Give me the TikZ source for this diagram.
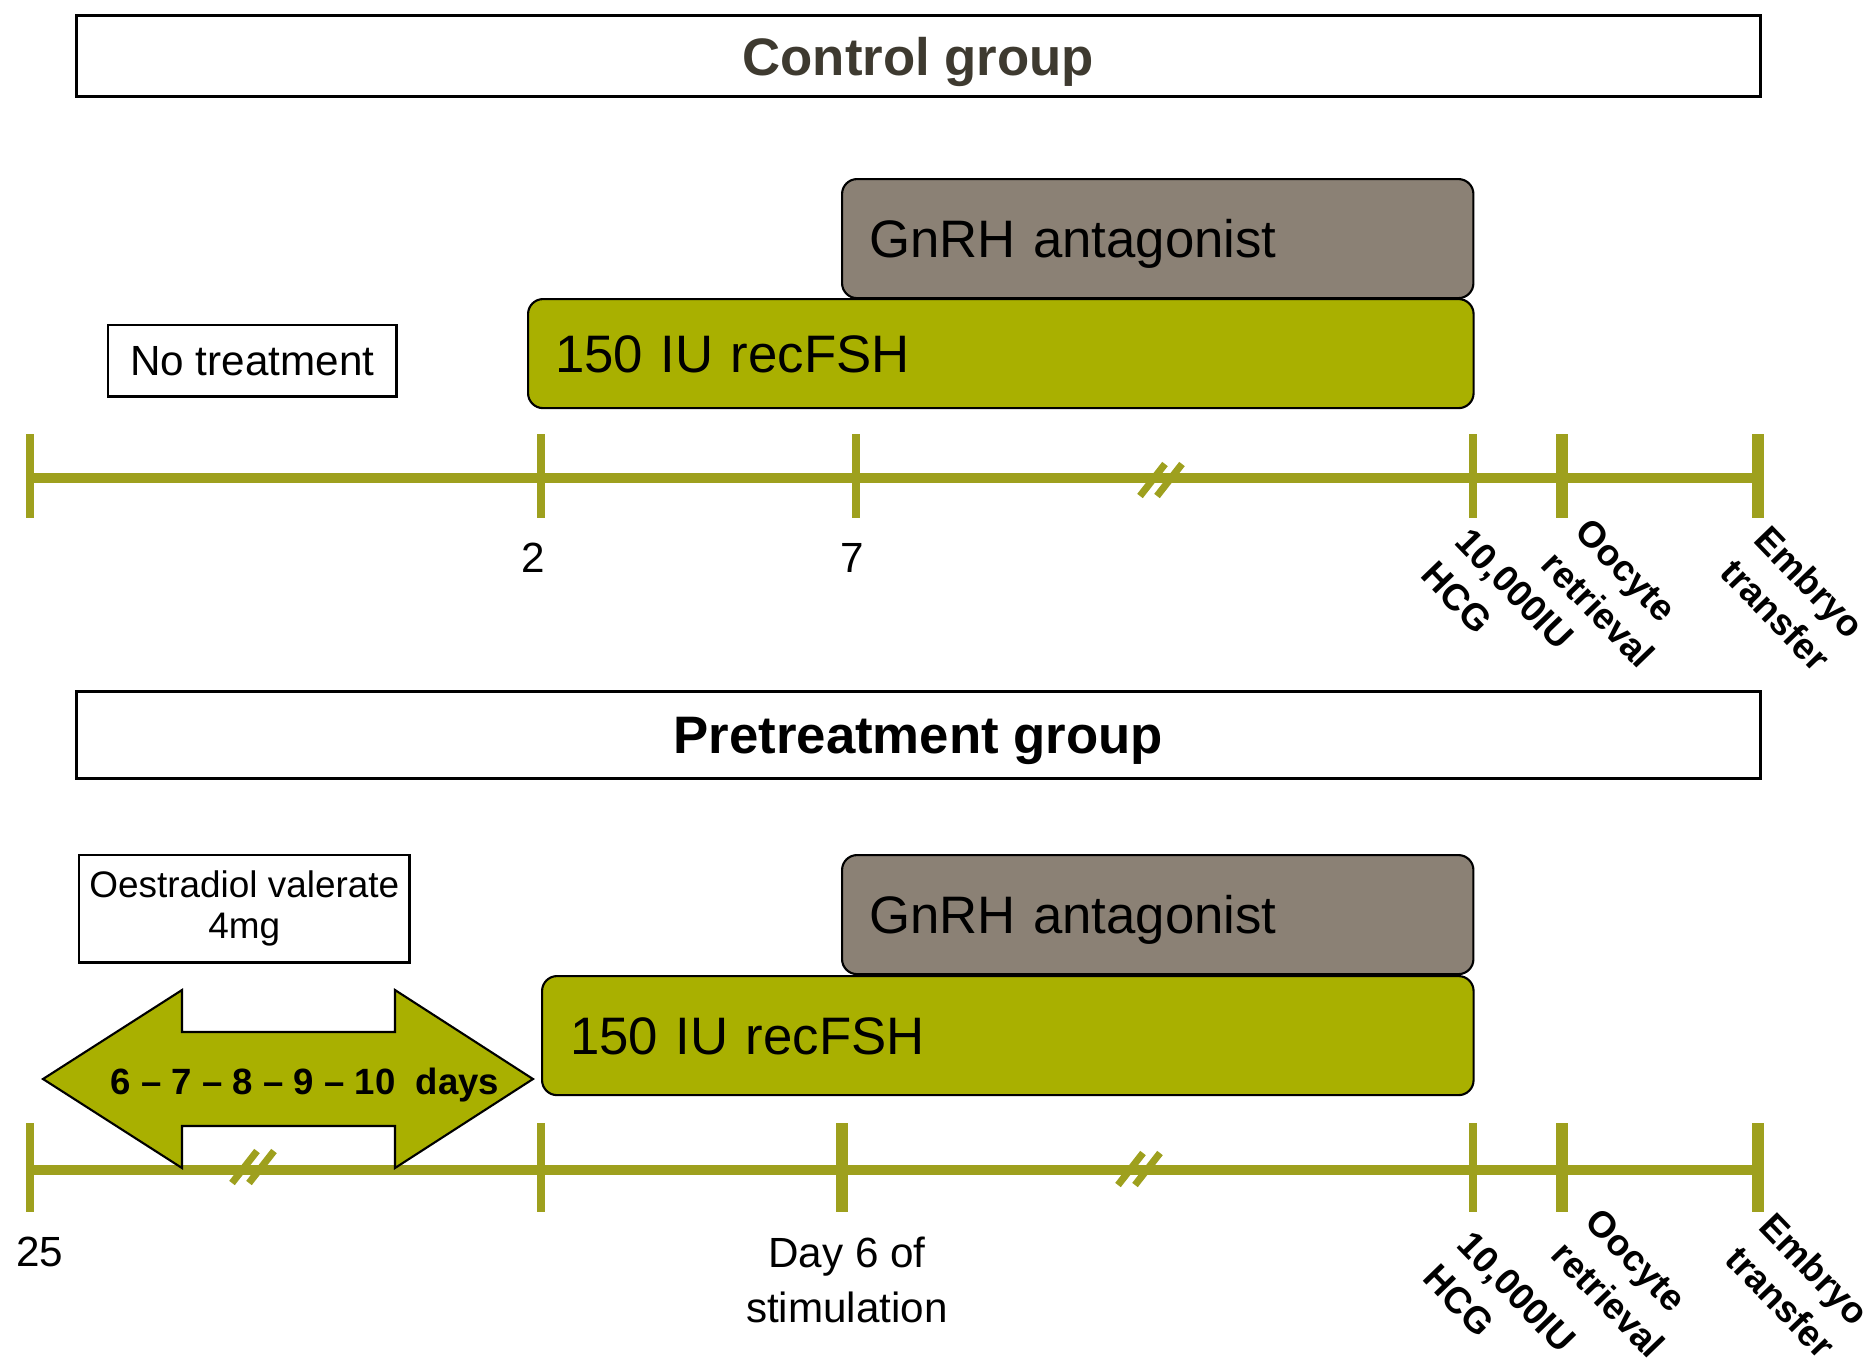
\documentclass[tikz,border=0pt]{standalone}
\usepackage{fontspec}
\setmainfont{Liberation Sans}
\usetikzlibrary{calc}

\definecolor{tlgreen}{RGB}{158,160,30}
\definecolor{fshgreen}{RGB}{169,176,0}
\definecolor{gnrhgray}{RGB}{139,129,117}
\definecolor{ctrltext}{RGB}{62,58,48}

\tikzset{
    groupbox/.style={draw, line width=0.8pt, anchor=north west, minimum width=16.83cm, text depth=0pt, font=\bfseries\fontsize{15}{18}\selectfont},
    notebox/.style={draw, line width=0.7pt, anchor=north west, align=center, inner sep=0pt},
    dosebar/.style={draw, line width=0.6pt, rounded corners=0.15cm, anchor=north west, align=left, inner xsep=0.27cm, text depth=0pt, font=\fontsize{15}{18}\selectfont},
    timeline/.style={tlgreen, line width=2.9pt},
    tickmark/.style={tlgreen, line width=2.4pt},
    brk/.style={tlgreen, line width=2pt},
    daynum/.style={font=\fontsize{12}{15.5}\selectfont, align=center},
    event/.style={font=\bfseries\fontsize{10.5}{13.5}\selectfont, align=left, anchor=north west, rotate=-46, inner sep=0pt},
}

\begin{document}
\begin{tikzpicture}[x=0.01cm,y=-0.01cm]
        \useasboundingbox (0,0) rectangle (1865,1359);
        % 对照组
        \node[groupbox, minimum height=0.81cm, text=ctrltext] (ctrl) at (75,14) {Control group};
        \node[dosebar, fill=gnrhgray, text width=5.77cm, minimum height=1.19cm] (gnrhA) at (841,178) {GnRH antagonist};
        \node[dosebar, fill=fshgreen, text width=8.91cm, minimum height=1.09cm] (fshA) at (527,298) {150 IU recFSH};
        \node[notebox, minimum width=2.88cm, minimum height=0.71cm, font=\fontsize{12}{14}\selectfont] (none) at (107,324) {No treatment};

        % 时间轴 (上)
        \draw[timeline] (30,478) -- (1758,478);
        \foreach \x/\lw [count=\i] in {30/2.4,541/2.4,856/2.4,1473/2.4,1562/3.4,1758/3.4}{
            \coordinate (up\i) at (\x,478);
            \draw[tickmark, line width=\lw pt] (\x,434) -- (\x,518);
        }
        \node[daynum] (dA2) at ($(up2)+(-8,80)$) {2};
        \node[daynum] (dA7) at ($(up3)+(-4,80)$) {7};
        \node[event] (hcgA) at ($(up4)+(-1,47)$) {10,000IU\\HCG};
        \node[event] (oocA) at ($(up5)+(30,37)$) {Oocyte\\retrieval};
        \node[event] (etA) at ($(up6)+(14,44)$) {Embryo\\transfer};

        % 预处理组
        \node[groupbox, minimum height=0.87cm] (pre) at (75,690) {Pretreatment group};
        \node[notebox, minimum width=3.30cm, minimum height=1.07cm, font=\fontsize{10.5}{11.7}\selectfont] (oest) at (78,854) {Oestradiol valerate\\4mg};
        \node[dosebar, fill=gnrhgray, text width=5.77cm, minimum height=1.19cm] (gnrhB) at (841,854) {GnRH antagonist};
        \node[dosebar, fill=fshgreen, text width=8.75cm, minimum height=1.19cm, inner xsep=0.28cm] (fshB) at (541,975) {150 IU recFSH};

        % 时间轴 (下)
        \draw[timeline] (30,1170) -- (1758,1170);
        \foreach \x/\lw [count=\i] in {30/2.4,541/2.4,842/3.4,1473/2.4,1562/3.4,1758/3.4}{
            \coordinate (lo\i) at (\x,1170);
            \draw[tickmark, line width=\lw pt] (\x,1123) -- (\x,1212);
        }
        \node[daynum] (d25) at ($(lo1)+(10,82)$) {25};
        \node[daynum] (dDay6) at ($(lo3)+(5,110)$) {Day 6 of\\stimulation};
        \node[event] (hcgB) at ($(lo4)+(1,58)$) {10,000IU\\HCG};
        \node[event] (oocB) at ($(lo5)+(40,35)$) {Oocyte\\retrieval};
        \node[event] (etB) at ($(lo6)+(19,39)$) {Embryo\\transfer};

        % 双向箭头: 6--10 天
        \draw[fill=fshgreen, line width=0.6pt] (43,1079) -- (182,990) -- (182,1032) -- (395,1032) -- (395,990)
            -- (533,1079) -- (395,1168) -- (395,1126) -- (182,1126) -- (182,1168) -- cycle;
        \node[font=\bfseries\fontsize{10.4}{12}\selectfont] (days) at (305,1085)
            {6 \textendash{} 7 \textendash{} 8 \textendash{} 9 \textendash{} 10~~days};

        % 断开标记 //
        \coordinate (cutA) at (1161,480);
        \coordinate (cutB) at (253,1167);
        \coordinate (cutC) at (1139,1169);
        \foreach \c in {cutA,cutB,cutC}
            \foreach \d in {-8.5,8.5}
                \draw[brk] ($(\c)+(\d-12.5,16)$) -- ($(\c)+(\d+12.5,-16)$);
\end{tikzpicture}
\end{document}
